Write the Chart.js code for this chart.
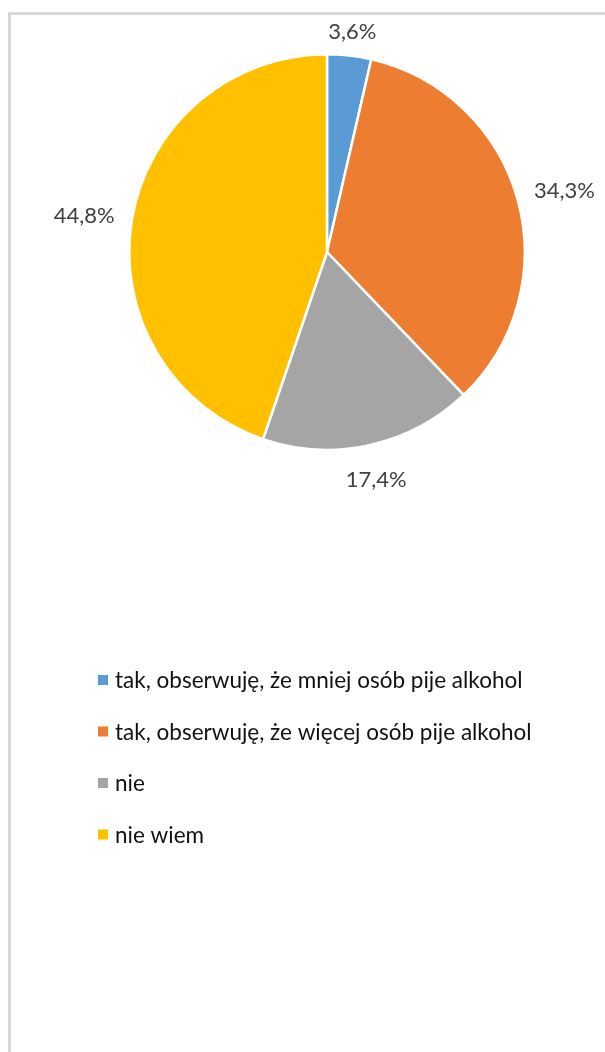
<!DOCTYPE html>
<html>
<head>
<meta charset="utf-8">
<script src="https://cdn.jsdelivr.net/npm/chart.js@4/dist/chart.umd.min.js"></script>
<style>
  html, body { margin: 0; padding: 0; background: #fff; }
  #wrap { position: relative; width: 605px; height: 1052px; overflow: hidden; }
  #frame { position: absolute; left: 8px; top: 12px; width: 620px; height: 1100px;
           border-left: 3px solid #d6d6d6; border-top: 3px solid #d9d9d9; }
  #chart { position: absolute; left: 0; top: 0; }
</style>
</head>
<body>
<div id="wrap">
  <div id="frame"></div>
  <canvas id="chart" width="605" height="1052"></canvas>
</div>
<script>
// data
const categories = [
  "tak, obserwuję, że mniej osób pije alkohol",
  "tak, obserwuję, że więcej osób pije alkohol",
  "nie",
  "nie wiem"
];
const values = [3.6, 34.3, 17.4, 44.8];
const valueLabels = ["3,6%", "34,3%", "17,4%", "44,8%"];
const colors = ["#5B9BD5", "#ED7D31", "#A5A5A5", "#FFC000"];

const FONT = "Lato, 'Open Sans', 'Liberation Sans', sans-serif";

// labels outside the slices
const outsideLabels = {
  id: "outsideLabels",
  afterDatasetsDraw(chart) {
    const ctx = chart.ctx;
    const arcs = chart.getDatasetMeta(0).data;
    ctx.save();
    ctx.font = "22px " + FONT;
    ctx.fillStyle = "#404040";
    ctx.textAlign = "center";
    ctx.textBaseline = "middle";
    arcs.forEach((arc, i) => {
      const p = arc.getProps(["x", "y", "startAngle", "endAngle", "outerRadius"], true);
      const mid = (p.startAngle + p.endAngle) / 2;
      const dx = Math.cos(mid), dy = Math.sin(mid);
      const w = ctx.measureText(valueLabels[i]).width;
      const h = 16;
      const d = p.outerRadius + 17 + Math.abs(dx) * w / 2 + Math.abs(dy) * h / 2;
      ctx.fillText(valueLabels[i], p.x + dx * d, p.y + dy * d + 4);
    });
    ctx.restore();
  }
};

// legend as a single column under the pie
const columnLegend = {
  id: "columnLegend",
  afterDraw(chart) {
    const ctx = chart.ctx;
    const x0 = 98, y0 = 680, step = 51.5, box = 10;
    ctx.save();
    ctx.font = "22.5px " + FONT;
    ctx.textBaseline = "middle";
    chart.data.labels.forEach((lab, i) => {
      const y = y0 + i * step;
      ctx.fillStyle = chart.data.datasets[0].backgroundColor[i];
      ctx.fillRect(x0, y - box / 2, box, box);
      ctx.fillStyle = "#111111";
      ctx.fillText(lab, x0 + 17, y + 1);
    });
    ctx.restore();
  }
};

new Chart(document.getElementById("chart"), {
  type: "pie",
  data: {
    labels: categories,
    datasets: [{
      data: values,
      backgroundColor: colors,
      borderColor: "#ffffff",
      borderWidth: 2.5
    }]
  },
  options: {
    responsive: false,
    animation: false,
    layout: { padding: { left: 128, right: 79, top: 53, bottom: 601 } },
    plugins: {
      legend: { display: false },
      tooltip: { enabled: false }
    }
  },
  plugins: [outsideLabels, columnLegend]
});
</script>
</body>
</html>
